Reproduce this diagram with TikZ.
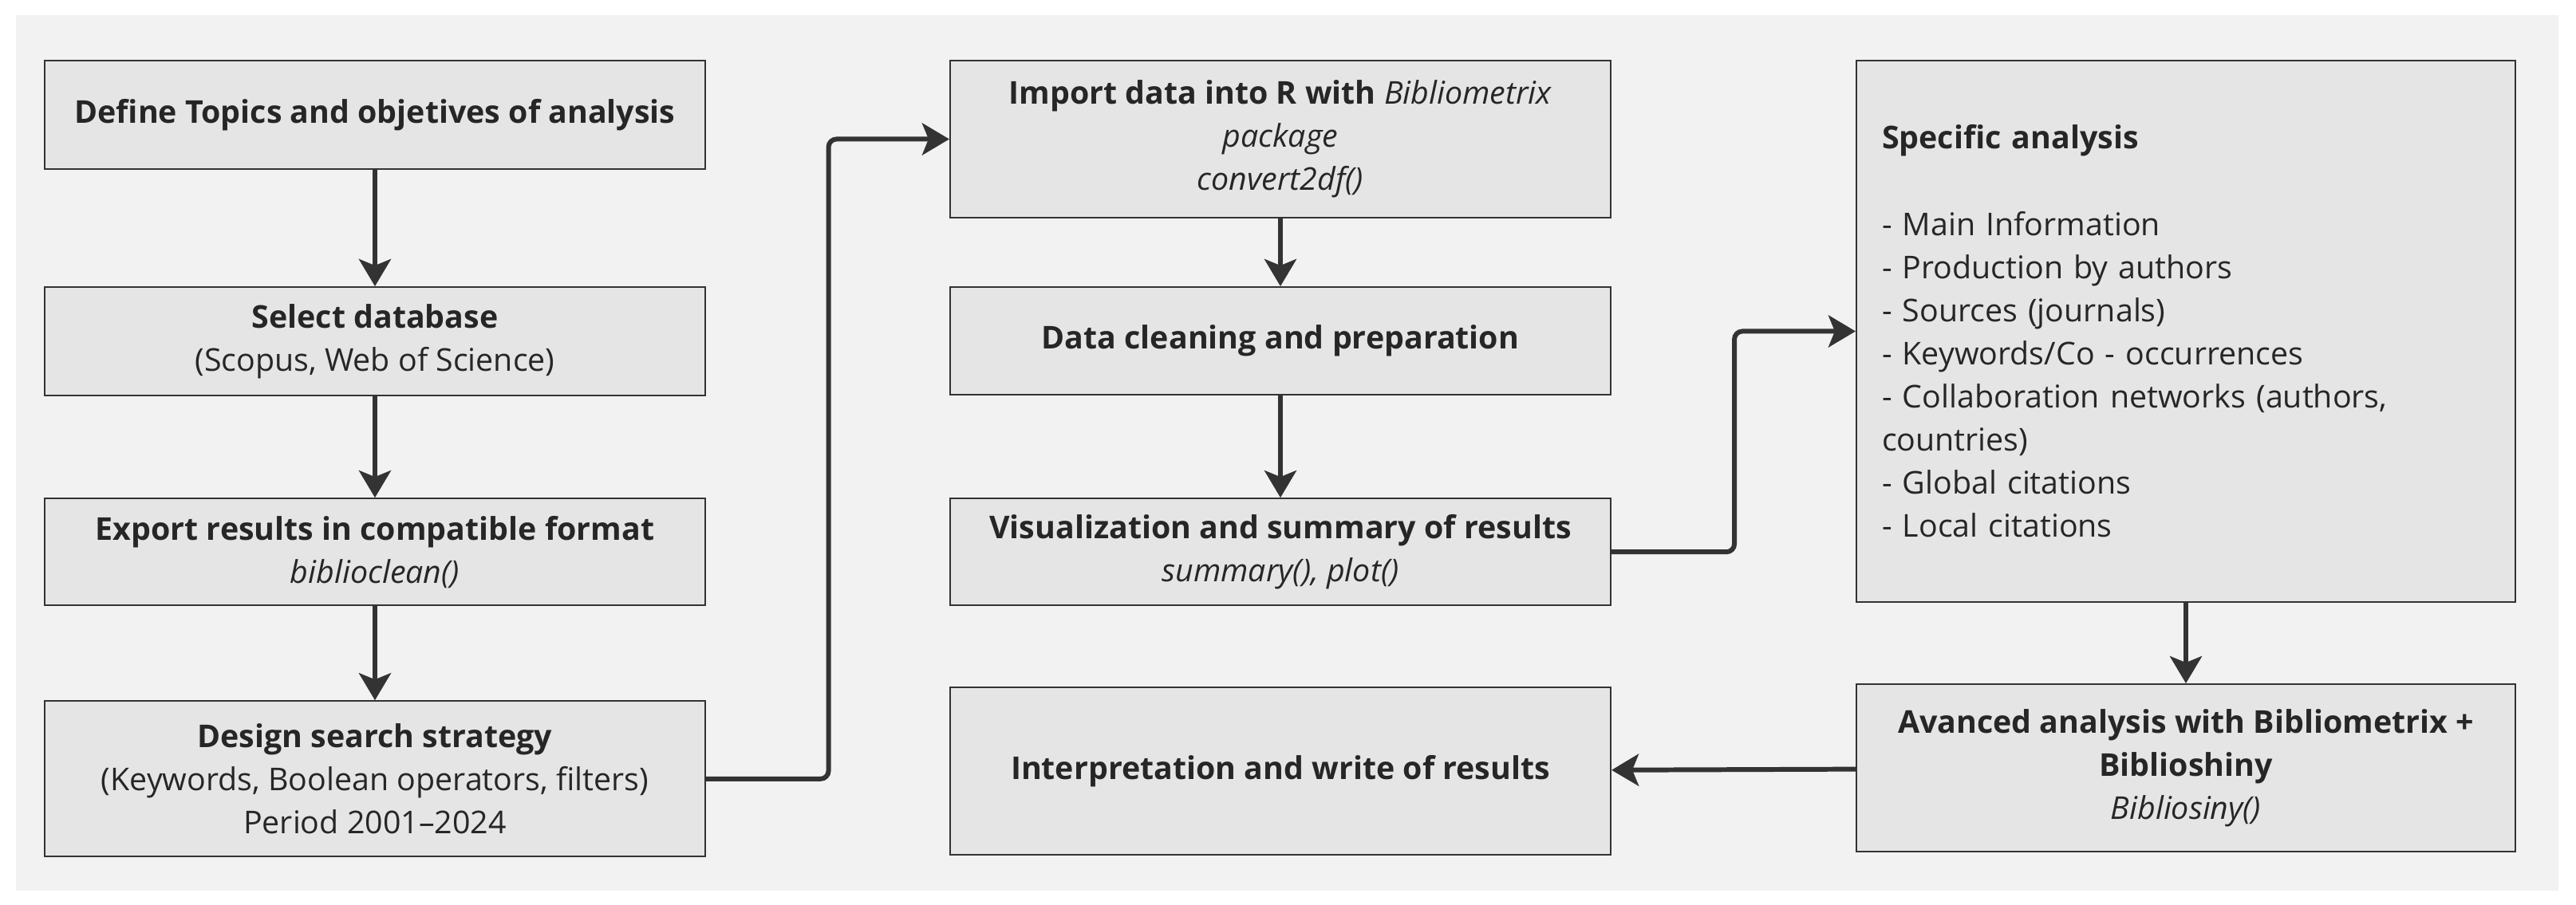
\documentclass[tikz,border=0pt]{standalone}
\usepackage{fontspec}
\setmainfont{Open Sans}
\usepackage{xcolor}
\usepackage{tikz}
\usetikzlibrary{arrows.meta}
\usetikzlibrary{positioning, calc}
\definecolor{bggray}{HTML}{F2F2F2}
\definecolor{boxgray}{HTML}{E5E5E5}
\definecolor{linegray}{HTML}{333333}
\tikzstyle{block} = [draw=linegray, fill=boxgray, line width=0.6pt, minimum width=8.28cm, align=center, text=black!85, font=\fontsize{11.2}{15.4}\selectfont]
\tikzstyle{arrow} = [line width=1.7pt, draw=linegray, rounded corners=1mm, -{Stealth[length=3.4mm, width=4mm, inset=0.8mm]}]

\begin{document}
\begin{tikzpicture}
			% page and background
			\useasboundingbox (0,0) rectangle (32.29,11.35);
			\fill[bggray] (0.20,0.18) rectangle (32.07,11.16);
			
			% first column
			\node (topics) [block,
			minimum height = 1.36cm
			] at (4.70,9.91) {\textbf{Define Topics and objetives of analysis}};
			
			\node (database) [block,
			minimum height = 1.36cm,
			below=1.46cm of topics] {\textbf{Select database}\\(Scopus, Web of Science)};
			
			\node (export) [block,
			minimum height = 1.34cm,
			below=1.27cm of database] {\textbf{Export results in compatible format}\\\textit{biblioclean()}};
			
			\node (design) [block,
			minimum height = 1.95cm,
			below=1.18cm of export] {\textbf{Design search strategy}\\(Keywords, Boolean operators, filters)\\Period 2001–2024};
			
			% second column
			\node (import) [block,
			minimum height = 1.97cm
			] at (16.05,9.605) {\textbf{Import data into R with} \textit{Bibliometrix}\\\textit{package}\\\textit{convert2df()}};
			
			\node (cleaning) [block,
			minimum height = 1.35cm,
			below=0.85cm of import] {\textbf{Data cleaning and preparation}};
			
			\node (summary) [block,
			minimum height = 1.34cm,
			below=1.28cm of cleaning] {\textbf{Visualization and summary of results}\\\textit{summary(), plot()}};
			
			\node (writing) [block,
			minimum height = 2.10cm,
			below=1.01cm of summary] {\textbf{Interpretation and write of results}};
			
			% third column
			\node (specific) [block,
			minimum width = 8.26cm,
			minimum height = 6.79cm,
			text width = 7.62cm,
			inner xsep = 0.32cm,
			align = left
			] at (27.40,7.195) {\textbf{Specific analysis}\\[15.4pt]
				- Main Information\\
				- Production by authors\\
				- Sources (journals)\\
				- Keywords/Co - occurrences\\
				- Collaboration networks (authors,\\
				countries)\\
				- Global citations\\
				- Local citations};
			
			\node (advanced) [block,
			minimum width = 8.26cm,
			minimum height = 2.10cm,
			below=1.01cm of specific] {\textbf{Avanced analysis with Bibliometrix +}\\\textbf{Biblioshiny}\\\textit{Bibliosiny()}};
			
			% connectors
			\draw [arrow] (topics) -- (database);
			\draw [arrow] (database) -- (export);
			\draw [arrow] (export) -- (design);
			\draw [arrow] (design.east) -- ++(1.535,0) |- (import.west);
			\draw [arrow] (import) -- (cleaning);
			\draw [arrow] (cleaning) -- (summary);
			\draw [arrow] (summary.east) -- ++(1.54,0) |- (specific.west);
			\draw [arrow] (specific) -- (advanced);
			\draw [arrow] (advanced) -- (writing);
		\end{tikzpicture}
\end{document}
